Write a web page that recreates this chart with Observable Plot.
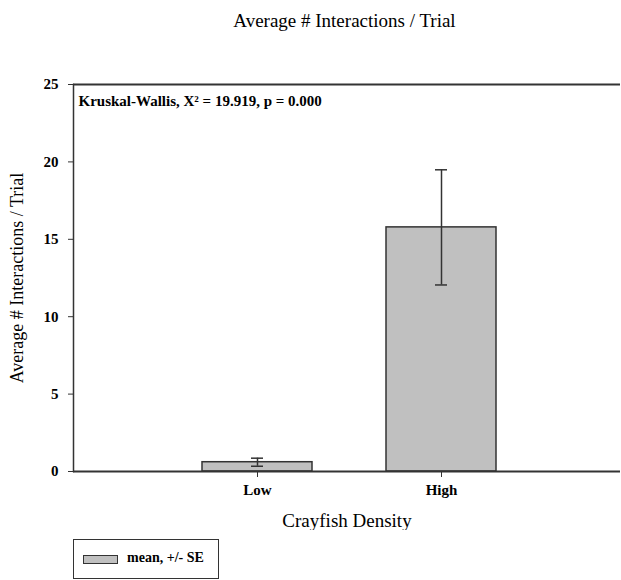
<!DOCTYPE html>
<html>
<head>
<meta charset="utf-8">
<script src="https://cdn.jsdelivr.net/npm/d3@7"></script>
<script src="https://cdn.jsdelivr.net/npm/@observablehq/plot@0.6"></script>
<style>
  body { margin: 0; background: #fff; font-family: "Liberation Serif", "DejaVu Serif", serif; }
  #wrap { width: 621px; position: relative; }
  #title { height: 40px; line-height: 42px; text-align: center; font-size: 19px; color: #000; padding-left: 68px; box-sizing: border-box; }
  #chart svg g[aria-label="y-axis label"] text { font-weight: normal; font-size: 18px; }
  #chart svg g[aria-label="x-axis label"] text { font-weight: normal; font-size: 19px; }
  #legend { margin: 9px 0 0 73px; width: 146px; height: 40px; border: 1px solid #333; box-sizing: border-box; position: relative; }
  #legend .sw { position: absolute; left: 9px; top: 15px; width: 35px; height: 9px; background: #c0c0c0; border: 1px solid #333; box-sizing: border-box; }
  #legend .lab { position: absolute; left: 53px; top: 10px; font-size: 14px; font-weight: bold; }
</style>
</head>
<body>
<div id="wrap">
  <div id="title">Average # Interactions / Trial</div>
  <div id="chart"></div>
  <div id="legend"><div class="sw"></div><div class="lab">mean, +/- SE</div></div>
</div>
<script>
// Crayfish density groups: mean interactions per trial with standard error
const categories = ["Low", "High"];
const means = [0.60, 15.77];
const stdErr = [0.26, 3.72];
const yTicks = [0, 5, 10, 15, 20, 25];
const statsNote = "Kruskal-Wallis, X\u00B2 = 19.919, p = 0.000";

const data = categories.map((c, i) => ({
  density: c,
  mean: means[i],
  lo: means[i] - stdErr[i],
  hi: means[i] + stdErr[i]
}));

const ink = "#333";

const chart = Plot.plot({
  width: 621,
  height: 490,
  marginTop: 44,
  marginBottom: 59,
  marginLeft: 73,
  marginRight: 1,
  style: {
    fontFamily: "'Liberation Serif', 'DejaVu Serif', serif",
    fontSize: "15px",
    fontWeight: "bold",
    color: "#000",
    background: "#fff"
  },
  x: { domain: categories, paddingInner: 0.4, paddingOuter: 0.686, align: 0.51 },
  y: { domain: [0, 25] },
  marks: [
    Plot.barY(data, { x: "density", y: "mean", fill: "#c0c0c0", stroke: ink, strokeWidth: 1.5 }),
    Plot.ruleX(data, { x: "density", y1: "lo", y2: "hi", stroke: ink, strokeWidth: 1.5 }),
    Plot.tickY(data, { x: "density", y: "hi", insetLeft: 49, insetRight: 49, stroke: ink, strokeWidth: 1.5 }),
    Plot.tickY(data, { x: "density", y: "lo", insetLeft: 49, insetRight: 49, stroke: ink, strokeWidth: 1.5 }),
    Plot.ruleY([0, 25], { stroke: ink, strokeWidth: 1.8 }),
    Plot.frame({ anchor: "left", stroke: ink, strokeWidth: 1.5 }),
    Plot.axisY({
      ticks: yTicks,
      tickSize: 5,
      tickPadding: 10,
      stroke: ink,
      label: "Average # Interactions / Trial",
      labelAnchor: "center",
      labelArrow: "none",
      labelOffset: 63
    }),
    Plot.axisX({
      tickSize: 6,
      tickPadding: 7,
      stroke: ink,
      label: "Crayfish Density",
      labelAnchor: "center",
      labelArrow: "none",
      labelOffset: 55
    }),
    Plot.text([statsNote], {
      frameAnchor: "top-left",
      dx: 5,
      dy: 11,
      fontSize: 15,
      fontWeight: "bold",
      textAnchor: "start"
    })
  ]
});

document.getElementById("chart").appendChild(chart);
</script>
</body>
</html>
